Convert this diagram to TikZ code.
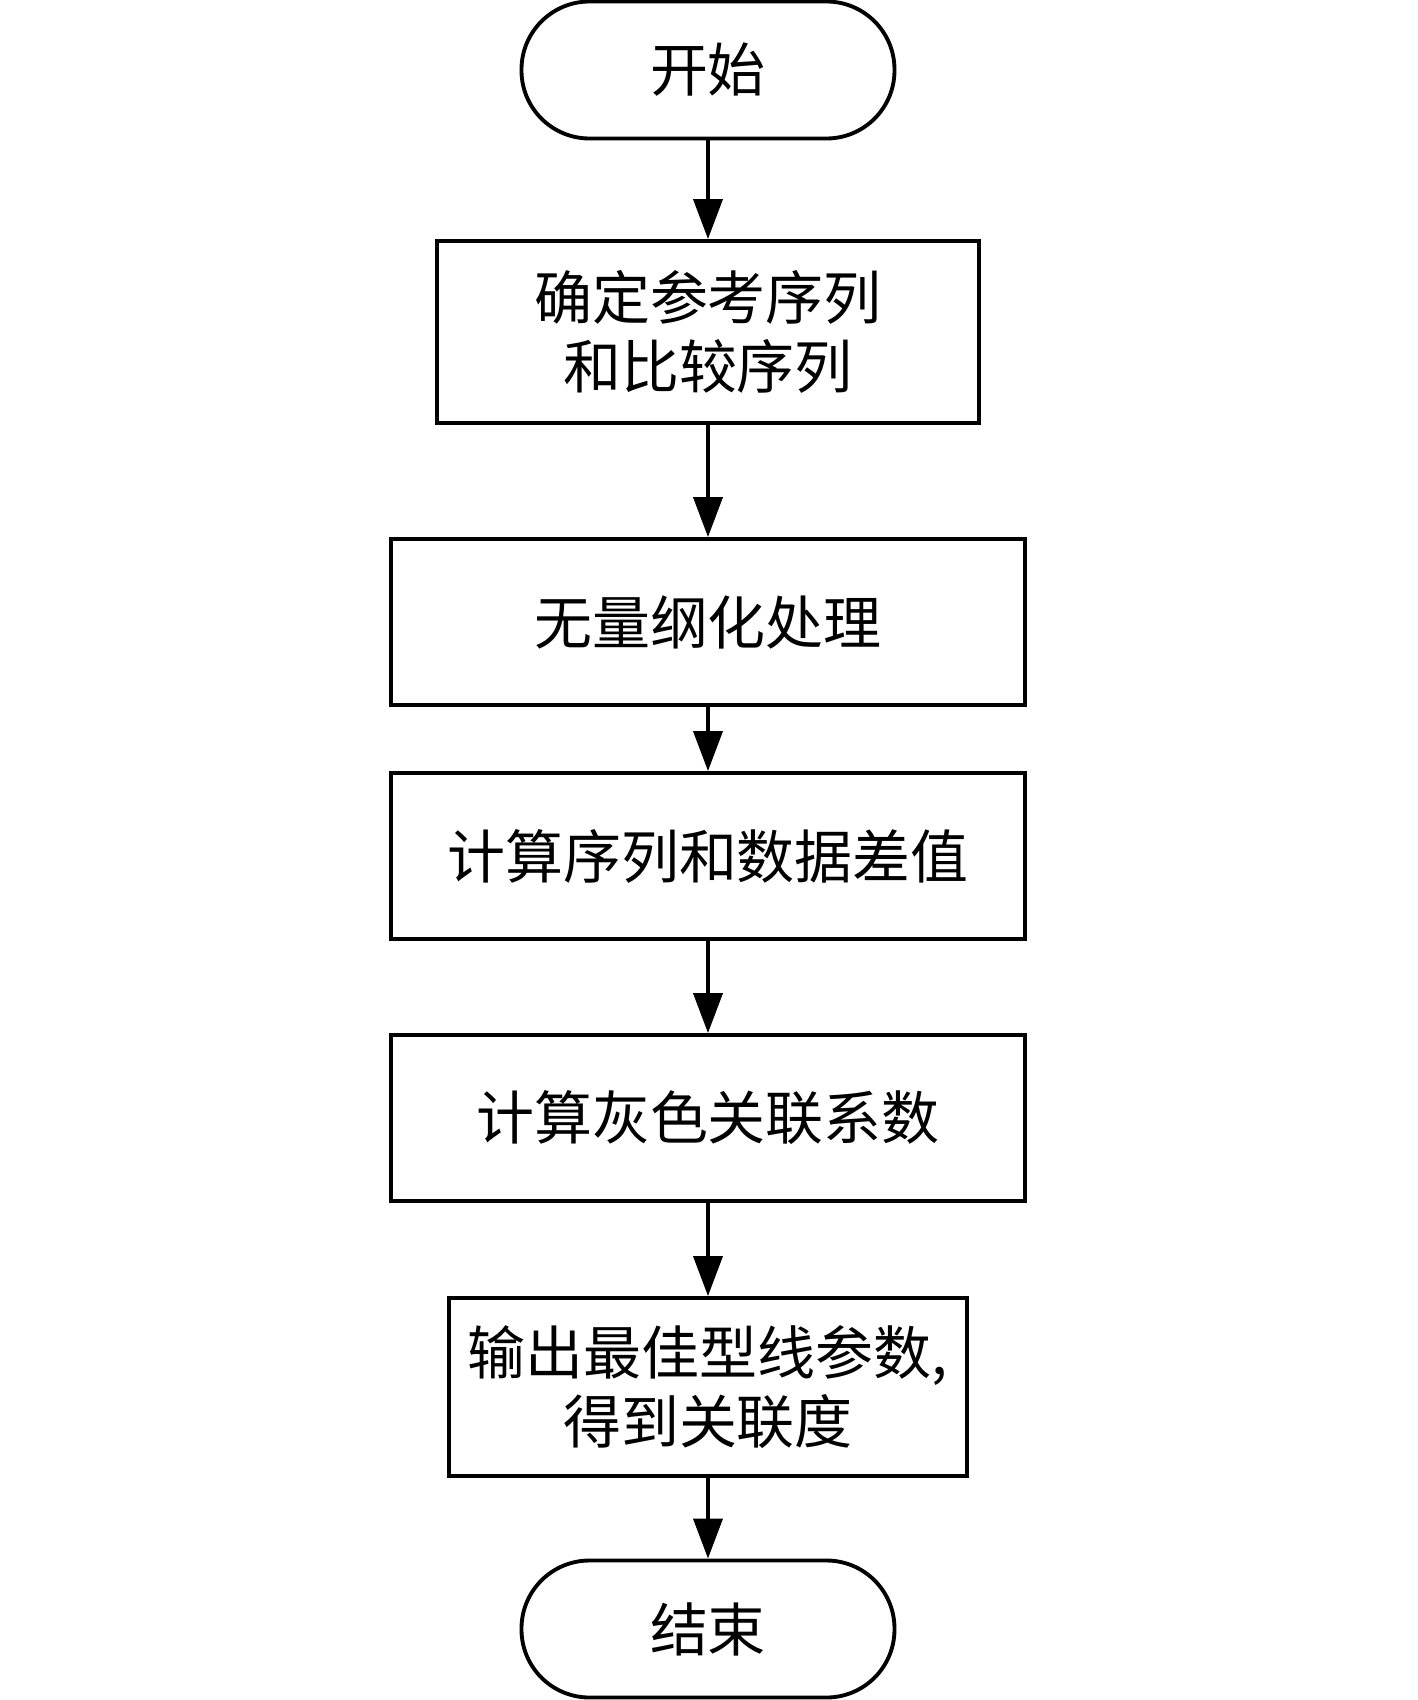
\documentclass[tikz,border=0pt]{standalone}
\usepackage{fontspec}
\newfontfamily\cjk{Noto Sans CJK SC}
\usetikzlibrary{arrows.meta}
\begin{document}
\begin{tikzpicture}[
  every node/.style={font=\cjk\fontsize{16.5pt}{19.5pt}\selectfont, align=center, line width=1.1pt},
  termbox/.style={draw, rectangle, rounded corners=6.8mm, minimum width=3.73cm, minimum height=1.37cm},
  procbox/.style={draw, rectangle, inner sep=0pt, minimum height=1.66cm},
  flow/.style={-{Triangle[length=4mm,width=2.9mm]}, line width=1.1pt}
]
  \useasboundingbox (-7.08,0) rectangle (7.09,-17);

  \node[termbox] (start) at (0,-0.70) {开始};
  \node[procbox, minimum width=5.42cm, minimum height=1.82cm] (refseq) at (0,-3.32) {确定参考序列\\和比较序列};
  \node[procbox, minimum width=6.34cm] (nondim) at (0,-6.22) {无量纲化处理};
  \node[procbox, minimum width=6.34cm] (diff) at (0,-8.56) {计算序列和数据差值};
  \node[procbox, minimum width=6.34cm] (coef) at (0,-11.18) {计算灰色关联系数};
  \node[procbox, minimum width=5.18cm, minimum height=1.78cm] (output) at (0,-13.87) {输出最佳型线参数,\\得到关联度};
  \node[termbox] (stop) at (0,-16.29) {结束};

  \draw[flow] (start) -- (refseq);
  \draw[flow] (refseq) -- (nondim);
  \draw[flow] (nondim) -- (diff);
  \draw[flow] (diff) -- (coef);
  \draw[flow] (coef) -- (output);
  \draw[flow] (output) -- (stop);

\end{tikzpicture}
\end{document}
